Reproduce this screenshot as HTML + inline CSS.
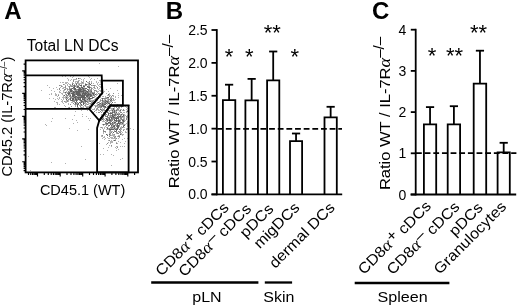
<!DOCTYPE html>
<html><head><meta charset="utf-8"><style>
html,body{margin:0;padding:0;background:#fff;width:520px;height:307px;overflow:hidden}
svg{display:block;filter:blur(0.3px);font-family:"Liberation Sans",sans-serif}
</style></head><body>
<svg width="520" height="307" viewBox="0 0 520 307">
<path d="M70 84h1v1h-1zM92 96h1v1h-1zM64 97h1v1h-1zM63 103h1v1h-1zM87 108h1v1h-1zM55 95h1v1h-1zM91 101h1v1h-1zM75 106h1v1h-1zM59 97h1v1h-1zM80 78h1v1h-1zM77 107h1v1h-1zM77 85h1v1h-1zM94 88h1v1h-1zM62 76h1v1h-1zM93 87h1v1h-1zM73 89h1v1h-1zM63 97h1v1h-1zM74 90h1v1h-1zM74 104h1v1h-1zM78 85h1v1h-1zM90 79h1v1h-1zM92 95h1v1h-1zM68 100h1v1h-1zM67 82h1v1h-1zM94 86h1v1h-1zM78 82h1v1h-1zM72 85h1v1h-1zM97 88h1v1h-1zM66 91h1v1h-1zM93 83h1v1h-1zM86 106h1v1h-1zM66 82h1v1h-1zM93 102h1v1h-1zM72 97h1v1h-1zM63 90h1v1h-1zM67 84h1v1h-1zM66 92h1v1h-1zM67 92h1v1h-1zM97 78h1v1h-1zM70 94h1v1h-1zM96 95h1v1h-1zM67 96h1v1h-1zM76 81h1v1h-1zM99 93h1v1h-1zM80 108h1v1h-1zM81 82h1v1h-1zM73 86h1v1h-1zM77 83h1v1h-1zM70 86h1v1h-1zM68 86h1v1h-1zM69 91h1v1h-1zM66 101h1v1h-1zM56 94h1v1h-1zM96 90h1v1h-1zM56 95h1v1h-1zM91 100h1v1h-1zM76 87h1v1h-1zM49 87h1v1h-1zM71 85h1v1h-1zM94 99h1v1h-1zM69 90h1v1h-1zM74 98h1v1h-1zM81 81h1v1h-1zM86 85h1v1h-1zM75 95h1v1h-1zM65 76h1v1h-1zM81 79h1v1h-1zM80 87h1v1h-1zM93 101h1v1h-1zM62 86h1v1h-1zM101 90h1v1h-1zM77 96h1v1h-1zM66 88h1v1h-1zM83 80h1v1h-1zM70 92h1v1h-1zM95 100h1v1h-1zM81 84h1v1h-1zM68 107h1v1h-1zM76 86h1v1h-1zM67 90h1v1h-1zM76 79h1v1h-1zM72 82h1v1h-1zM88 82h1v1h-1zM100 84h1v1h-1zM69 95h1v1h-1zM79 85h1v1h-1zM98 85h1v1h-1zM98 91h1v1h-1zM86 99h1v1h-1zM80 104h1v1h-1zM76 104h1v1h-1zM63 99h1v1h-1zM57 96h1v1h-1zM86 104h1v1h-1zM88 99h1v1h-1zM83 82h1v1h-1zM82 102h1v1h-1zM80 107h1v1h-1zM85 89h1v1h-1zM74 84h1v1h-1zM82 83h1v1h-1zM51 93h1v1h-1zM63 87h1v1h-1zM63 98h1v1h-1zM78 80h1v1h-1zM95 98h1v1h-1zM59 92h1v1h-1zM99 88h1v1h-1zM88 106h1v1h-1zM85 103h1v1h-1zM89 106h1v1h-1zM74 79h1v1h-1zM73 83h1v1h-1zM94 97h1v1h-1zM65 102h1v1h-1zM63 92h1v1h-1zM85 83h1v1h-1zM84 102h1v1h-1zM64 87h1v1h-1zM80 105h1v1h-1zM75 82h1v1h-1zM65 93h1v1h-1zM75 81h1v1h-1zM65 85h1v1h-1zM53 98h1v1h-1zM83 83h1v1h-1zM71 96h1v1h-1zM91 78h1v1h-1zM100 91h1v1h-1zM68 89h1v1h-1zM61 85h1v1h-1zM91 82h1v1h-1zM66 102h1v1h-1zM65 106h1v1h-1zM94 79h1v1h-1zM78 84h1v1h-1zM72 77h1v1h-1zM66 96h1v1h-1zM83 81h1v1h-1zM87 87h1v1h-1zM68 97h1v1h-1zM69 84h1v1h-1zM87 82h1v1h-1zM91 93h1v1h-1zM49 94h1v1h-1zM87 106h1v1h-1zM92 94h1v1h-1zM89 85h1v1h-1zM87 110h1v1h-1zM64 90h1v1h-1zM69 98h1v1h-1zM71 79h1v1h-1zM64 108h1v1h-1zM96 86h1v1h-1zM68 95h1v1h-1zM95 96h1v1h-1zM88 100h1v1h-1zM97 94h1v1h-1zM83 106h1v1h-1zM68 80h1v1h-1zM51 90h1v1h-1zM82 105h1v1h-1zM62 88h1v1h-1zM86 97h1v1h-1zM66 83h1v1h-1zM68 83h1v1h-1zM96 94h1v1h-1zM66 98h1v1h-1zM59 91h1v1h-1zM59 98h1v1h-1zM76 102h1v1h-1zM62 82h1v1h-1zM69 99h1v1h-1zM87 84h1v1h-1zM96 82h1v1h-1zM82 100h1v1h-1zM71 98h1v1h-1zM98 82h1v1h-1zM80 83h1v1h-1zM88 101h1v1h-1zM99 84h1v1h-1zM89 90h1v1h-1zM77 103h1v1h-1zM61 101h1v1h-1zM70 93h1v1h-1zM79 105h1v1h-1zM65 98h1v1h-1zM81 93h1v1h-1zM70 76h1v1h-1zM84 87h1v1h-1zM93 92h1v1h-1zM89 89h1v1h-1zM55 94h1v1h-1zM75 105h1v1h-1zM96 97h1v1h-1zM97 91h1v1h-1zM99 86h1v1h-1zM78 88h1v1h-1zM80 101h1v1h-1zM70 80h1v1h-1zM79 78h1v1h-1zM94 91h1v1h-1zM94 96h1v1h-1zM96 93h1v1h-1zM92 85h1v1h-1zM87 98h1v1h-1zM74 102h1v1h-1zM98 89h1v1h-1zM76 85h1v1h-1zM65 83h1v1h-1zM88 85h1v1h-1zM89 77h1v1h-1zM98 96h1v1h-1zM83 107h1v1h-1zM96 100h1v1h-1zM57 102h1v1h-1zM93 103h1v1h-1zM85 99h1v1h-1zM67 88h1v1h-1zM83 79h1v1h-1zM67 85h1v1h-1zM106 89h1v1h-1zM89 103h1v1h-1zM99 90h1v1h-1zM54 91h1v1h-1zM89 92h1v1h-1zM60 92h1v1h-1zM60 87h1v1h-1zM88 83h1v1h-1zM89 105h1v1h-1zM100 87h1v1h-1zM101 93h1v1h-1zM73 79h1v1h-1zM97 92h1v1h-1zM71 92h1v1h-1zM75 83h1v1h-1zM100 90h1v1h-1zM88 104h1v1h-1zM79 83h1v1h-1zM90 99h1v1h-1zM101 91h1v1h-1zM83 87h1v1h-1zM62 94h1v1h-1zM81 88h1v1h-1zM84 105h1v1h-1zM56 87h1v1h-1zM57 104h1v1h-1zM88 107h1v1h-1zM78 83h1v1h-1zM88 102h1v1h-1zM92 88h1v1h-1zM53 88h1v1h-1zM60 85h1v1h-1zM72 102h1v1h-1zM86 98h1v1h-1zM97 84h1v1h-1zM89 82h1v1h-1zM85 104h1v1h-1zM65 97h1v1h-1zM91 81h1v1h-1zM72 101h1v1h-1zM86 90h1v1h-1zM94 94h1v1h-1zM67 97h1v1h-1zM86 100h1v1h-1zM93 89h1v1h-1zM70 88h1v1h-1zM88 84h1v1h-1zM87 100h1v1h-1zM65 82h1v1h-1zM68 101h1v1h-1zM78 107h1v1h-1zM73 76h1v1h-1zM75 85h1v1h-1zM64 84h1v1h-1zM81 83h1v1h-1zM86 103h1v1h-1zM77 90h1v1h-1zM81 94h1v1h-1zM75 79h1v1h-1zM63 82h1v1h-1zM68 79h1v1h-1zM99 80h1v1h-1zM88 103h1v1h-1zM92 100h1v1h-1zM90 100h1v1h-1zM79 80h1v1h-1zM91 87h1v1h-1zM84 85h1v1h-1zM79 100h1v1h-1zM64 92h1v1h-1zM65 101h1v1h-1zM68 103h1v1h-1zM90 89h1v1h-1zM85 106h1v1h-1zM63 88h1v1h-1zM60 90h1v1h-1zM100 86h1v1h-1zM63 91h1v1h-1zM67 78h1v1h-1zM41 90h1v1h-1zM61 93h1v1h-1zM82 107h1v1h-1zM54 101h1v1h-1zM57 89h1v1h-1zM96 81h1v1h-1zM56 102h1v1h-1zM62 101h1v1h-1zM59 104h1v1h-1zM60 82h1v1h-1zM57 103h1v1h-1zM71 102h1v1h-1zM90 104h1v1h-1zM63 96h1v1h-1zM68 104h1v1h-1zM74 99h1v1h-1zM55 99h1v1h-1zM61 99h1v1h-1zM95 88h1v1h-1zM65 94h1v1h-1zM83 100h1v1h-1zM97 83h1v1h-1zM49 98h1v1h-1zM58 94h1v1h-1zM51 94h1v1h-1zM77 81h1v1h-1zM58 99h1v1h-1zM62 93h1v1h-1zM65 88h1v1h-1zM63 95h1v1h-1zM62 97h1v1h-1zM55 93h1v1h-1zM88 76h1v1h-1zM84 78h1v1h-1zM95 85h1v1h-1zM65 96h1v1h-1zM66 100h1v1h-1zM57 98h1v1h-1zM62 102h1v1h-1zM64 105h1v1h-1zM62 100h1v1h-1zM86 116h1v1h-1zM45 124h1v1h-1zM82 114h1v1h-1zM73 123h1v1h-1zM76 120h1v1h-1zM54 107h1v1h-1zM72 119h1v1h-1zM82 116h1v1h-1zM81 110h1v1h-1zM88 118h1v1h-1zM69 128h1v1h-1zM78 109h1v1h-1zM65 118h1v1h-1zM52 118h1v1h-1zM77 130h1v1h-1zM99 110h1v1h-1zM116 111h1v1h-1zM103 137h1v1h-1zM88 129h1v1h-1zM89 120h1v1h-1zM51 121h1v1h-1zM75 111h1v1h-1zM74 115h1v1h-1zM77 122h1v1h-1zM46 125h1v1h-1zM55 107h1v1h-1zM90 118h1v1h-1zM78 108h1v1h-1zM104 105h1v1h-1zM109 102h1v1h-1zM98 105h1v1h-1zM112 100h1v1h-1zM110 102h1v1h-1zM115 99h1v1h-1zM97 104h1v1h-1zM94 108h1v1h-1zM109 93h1v1h-1zM103 100h1v1h-1zM110 95h1v1h-1zM101 98h1v1h-1zM115 102h1v1h-1zM113 105h1v1h-1zM99 107h1v1h-1zM106 109h1v1h-1zM106 93h1v1h-1zM118 95h1v1h-1zM103 96h1v1h-1zM113 95h1v1h-1zM109 94h1v1h-1zM102 96h1v1h-1zM92 109h1v1h-1zM109 101h1v1h-1zM100 99h1v1h-1zM101 100h1v1h-1zM96 110h1v1h-1zM111 97h1v1h-1zM114 100h1v1h-1zM98 97h1v1h-1zM108 91h1v1h-1zM110 88h1v1h-1zM109 95h1v1h-1zM102 111h1v1h-1zM107 104h1v1h-1zM105 99h1v1h-1zM107 100h1v1h-1zM97 107h1v1h-1zM105 96h1v1h-1zM94 103h1v1h-1zM103 102h1v1h-1zM103 107h1v1h-1zM117 90h1v1h-1zM106 102h1v1h-1zM114 102h1v1h-1zM91 108h1v1h-1zM101 114h1v1h-1zM118 97h1v1h-1zM104 91h1v1h-1zM98 106h1v1h-1zM95 102h1v1h-1zM108 95h1v1h-1zM115 96h1v1h-1zM107 99h1v1h-1zM96 112h1v1h-1zM112 98h1v1h-1zM113 96h1v1h-1zM102 94h1v1h-1zM106 97h1v1h-1zM97 100h1v1h-1zM113 98h1v1h-1zM110 99h1v1h-1zM107 95h1v1h-1zM107 98h1v1h-1zM105 97h1v1h-1zM106 105h1v1h-1zM99 101h1v1h-1zM107 103h1v1h-1zM113 100h1v1h-1zM104 109h1v1h-1zM98 98h1v1h-1zM96 116h1v1h-1zM100 104h1v1h-1zM101 102h1v1h-1zM95 115h1v1h-1zM111 98h1v1h-1zM98 110h1v1h-1zM96 106h1v1h-1zM96 105h1v1h-1zM107 107h1v1h-1zM97 103h1v1h-1zM96 108h1v1h-1zM102 109h1v1h-1zM95 105h1v1h-1zM102 108h1v1h-1zM95 110h1v1h-1zM118 93h1v1h-1zM99 102h1v1h-1zM115 97h1v1h-1zM94 105h1v1h-1zM100 101h1v1h-1zM97 109h1v1h-1zM103 110h1v1h-1zM94 109h1v1h-1zM106 100h1v1h-1zM108 98h1v1h-1zM98 109h1v1h-1zM97 106h1v1h-1zM117 104h1v1h-1zM93 109h1v1h-1zM110 97h1v1h-1zM101 103h1v1h-1zM95 107h1v1h-1zM96 103h1v1h-1zM110 101h1v1h-1zM104 99h1v1h-1zM100 97h1v1h-1zM104 100h1v1h-1zM108 105h1v1h-1zM106 107h1v1h-1zM101 115h1v1h-1zM100 108h1v1h-1zM106 120h1v1h-1zM121 128h1v1h-1zM103 120h1v1h-1zM120 127h1v1h-1zM115 116h1v1h-1zM109 111h1v1h-1zM119 111h1v1h-1zM112 126h1v1h-1zM115 106h1v1h-1zM122 117h1v1h-1zM109 131h1v1h-1zM108 118h1v1h-1zM120 119h1v1h-1zM105 112h1v1h-1zM100 127h1v1h-1zM112 128h1v1h-1zM111 116h1v1h-1zM122 113h1v1h-1zM120 114h1v1h-1zM125 115h1v1h-1zM113 111h1v1h-1zM110 128h1v1h-1zM101 120h1v1h-1zM115 128h1v1h-1zM104 119h1v1h-1zM127 121h1v1h-1zM104 127h1v1h-1zM123 118h1v1h-1zM115 110h1v1h-1zM112 131h1v1h-1zM105 126h1v1h-1zM113 128h1v1h-1zM119 131h1v1h-1zM122 135h1v1h-1zM124 114h1v1h-1zM103 121h1v1h-1zM125 124h1v1h-1zM114 108h1v1h-1zM123 127h1v1h-1zM121 129h1v1h-1zM127 125h1v1h-1zM126 109h1v1h-1zM114 109h1v1h-1zM113 121h1v1h-1zM117 106h1v1h-1zM121 107h1v1h-1zM120 121h1v1h-1zM107 115h1v1h-1zM113 124h1v1h-1zM119 126h1v1h-1zM108 126h1v1h-1zM114 113h1v1h-1zM117 110h1v1h-1zM111 124h1v1h-1zM109 121h1v1h-1zM127 129h1v1h-1zM127 123h1v1h-1zM119 117h1v1h-1zM127 126h1v1h-1zM124 116h1v1h-1zM124 112h1v1h-1zM110 107h1v1h-1zM110 110h1v1h-1zM100 120h1v1h-1zM127 108h1v1h-1zM113 122h1v1h-1zM124 124h1v1h-1zM116 115h1v1h-1zM123 124h1v1h-1zM110 114h1v1h-1zM126 123h1v1h-1zM113 127h1v1h-1zM116 123h1v1h-1zM103 125h1v1h-1zM120 109h1v1h-1zM101 118h1v1h-1zM124 129h1v1h-1zM121 131h1v1h-1zM120 124h1v1h-1zM115 121h1v1h-1zM119 137h1v1h-1zM116 109h1v1h-1zM126 112h1v1h-1zM104 128h1v1h-1zM114 121h1v1h-1zM127 116h1v1h-1zM104 114h1v1h-1zM122 114h1v1h-1zM120 131h1v1h-1zM128 106h1v1h-1zM107 129h1v1h-1zM124 110h1v1h-1zM124 115h1v1h-1zM103 119h1v1h-1zM126 117h1v1h-1zM126 128h1v1h-1zM111 109h1v1h-1zM102 127h1v1h-1zM111 131h1v1h-1zM122 124h1v1h-1zM123 123h1v1h-1zM109 110h1v1h-1zM102 121h1v1h-1zM116 113h1v1h-1zM124 118h1v1h-1zM109 108h1v1h-1zM121 127h1v1h-1zM115 105h1v1h-1zM122 110h1v1h-1zM121 115h1v1h-1zM111 105h1v1h-1zM112 109h1v1h-1zM118 113h1v1h-1zM127 124h1v1h-1zM119 119h1v1h-1zM106 121h1v1h-1zM101 117h1v1h-1zM121 116h1v1h-1zM128 105h1v1h-1zM109 107h1v1h-1zM114 138h1v1h-1zM123 117h1v1h-1zM111 110h1v1h-1zM108 112h1v1h-1zM120 111h1v1h-1zM126 111h1v1h-1zM119 110h1v1h-1zM127 117h1v1h-1zM123 112h1v1h-1zM105 124h1v1h-1zM105 118h1v1h-1zM108 119h1v1h-1zM112 108h1v1h-1zM121 124h1v1h-1zM121 126h1v1h-1zM121 123h1v1h-1zM114 129h1v1h-1zM125 131h1v1h-1zM106 122h1v1h-1zM102 124h1v1h-1zM104 115h1v1h-1zM104 121h1v1h-1zM100 119h1v1h-1zM110 105h1v1h-1zM101 119h1v1h-1zM115 111h1v1h-1zM123 105h1v1h-1zM122 121h1v1h-1zM116 124h1v1h-1zM124 119h1v1h-1zM109 115h1v1h-1zM124 120h1v1h-1zM107 118h1v1h-1zM108 138h1v1h-1zM117 113h1v1h-1zM125 120h1v1h-1zM128 124h1v1h-1zM125 106h1v1h-1zM109 123h1v1h-1zM124 117h1v1h-1zM103 116h1v1h-1zM127 110h1v1h-1zM115 123h1v1h-1zM114 106h1v1h-1zM118 112h1v1h-1zM115 112h1v1h-1zM118 110h1v1h-1zM108 128h1v1h-1zM111 112h1v1h-1zM121 109h1v1h-1zM113 110h1v1h-1zM114 116h1v1h-1zM114 107h1v1h-1zM103 117h1v1h-1zM109 116h1v1h-1zM111 108h1v1h-1zM102 128h1v1h-1zM106 129h1v1h-1zM122 134h1v1h-1zM126 107h1v1h-1zM128 114h1v1h-1zM116 106h1v1h-1zM98 123h1v1h-1zM118 128h1v1h-1zM114 105h1v1h-1zM112 125h1v1h-1zM115 127h1v1h-1zM127 115h1v1h-1zM119 108h1v1h-1zM127 122h1v1h-1zM118 108h1v1h-1zM116 114h1v1h-1zM113 119h1v1h-1zM112 135h1v1h-1zM110 108h1v1h-1zM109 132h1v1h-1zM100 154h1v1h-1zM105 138h1v1h-1zM120 142h1v1h-1zM115 139h1v1h-1zM120 146h1v1h-1zM110 141h1v1h-1zM115 138h1v1h-1zM109 130h1v1h-1zM113 134h1v1h-1zM103 133h1v1h-1zM120 159h1v1h-1zM109 133h1v1h-1zM112 133h1v1h-1zM125 141h1v1h-1zM124 127h1v1h-1zM124 146h1v1h-1zM119 135h1v1h-1zM120 129h1v1h-1zM101 135h1v1h-1zM118 149h1v1h-1zM106 144h1v1h-1zM111 165h1v1h-1zM123 134h1v1h-1zM104 137h1v1h-1zM117 136h1v1h-1zM103 132h1v1h-1zM104 136h1v1h-1zM117 146h1v1h-1zM110 132h1v1h-1zM107 134h1v1h-1zM112 138h1v1h-1zM112 141h1v1h-1zM121 134h1v1h-1zM123 129h1v1h-1zM111 135h1v1h-1zM116 150h1v1h-1zM103 154h1v1h-1zM110 134h1v1h-1zM110 142h1v1h-1zM111 142h1v1h-1zM111 140h1v1h-1zM108 147h1v1h-1zM124 138h1v1h-1zM111 141h1v1h-1zM118 135h1v1h-1zM122 158h1v1h-1zM114 135h1v1h-1zM115 147h1v1h-1zM116 133h1v1h-1zM127 138h1v1h-1zM110 143h1v1h-1zM110 131h1v1h-1zM126 132h1v1h-1zM114 136h1v1h-1zM113 136h1v1h-1zM116 142h1v1h-1zM116 148h1v1h-1zM117 143h1v1h-1zM122 146h1v1h-1zM113 138h1v1h-1zM104 139h1v1h-1zM124 143h1v1h-1zM121 133h1v1h-1zM103 148h1v1h-1zM111 154h1v1h-1zM108 142h1v1h-1zM119 122h1v1h-1zM109 138h1v1h-1zM108 129h1v1h-1zM111 138h1v1h-1zM125 132h1v1h-1zM113 135h1v1h-1zM100 129h1v1h-1zM114 130h1v1h-1zM120 133h1v1h-1zM109 135h1v1h-1zM113 140h1v1h-1zM111 146h1v1h-1zM112 142h1v1h-1zM115 137h1v1h-1zM102 138h1v1h-1zM103 129h1v1h-1zM118 138h1v1h-1zM110 137h1v1h-1zM122 139h1v1h-1zM122 132h1v1h-1zM116 146h1v1h-1zM112 137h1v1h-1zM113 155h1v1h-1zM101 136h1v1h-1zM109 145h1v1h-1zM118 141h1v1h-1zM97 131h1v1h-1zM107 137h1v1h-1zM111 137h1v1h-1zM117 121h1v1h-1zM117 132h1v1h-1zM105 132h1v1h-1zM115 125h1v1h-1zM128 128h1v1h-1zM99 143h1v1h-1zM108 140h1v1h-1zM106 127h1v1h-1zM112 134h1v1h-1zM102 136h1v1h-1zM107 150h1v1h-1zM51 162h1v1h-1zM133 129h1v1h-1zM117 83h1v1h-1zM47 85h1v1h-1zM85 159h1v1h-1zM65 163h1v1h-1zM118 66h1v1h-1zM30 170h1v1h-1zM81 146h1v1h-1zM121 95h1v1h-1zM28 156h1v1h-1zM129 105h1v1h-1zM99 63h1v1h-1zM130 128h1v1h-1z" fill="#000" fill-opacity="0.3" shape-rendering="crispEdges"/><path d="M88 97h1v1h-1zM68 91h1v1h-1zM67 93h1v1h-1zM96 99h1v1h-1zM67 100h1v1h-1zM70 85h1v1h-1zM69 107h1v1h-1zM82 90h1v1h-1zM72 90h1v1h-1zM87 104h1v1h-1zM98 93h1v1h-1zM90 87h1v1h-1zM81 105h1v1h-1zM85 95h1v1h-1zM69 94h1v1h-1zM67 89h1v1h-1zM77 82h1v1h-1zM89 91h1v1h-1zM73 80h1v1h-1zM88 89h1v1h-1zM84 91h1v1h-1zM82 92h1v1h-1zM73 88h1v1h-1zM88 92h1v1h-1zM89 81h1v1h-1zM89 100h1v1h-1zM91 83h1v1h-1zM76 78h1v1h-1zM75 104h1v1h-1zM72 86h1v1h-1zM69 86h1v1h-1zM95 90h1v1h-1zM91 92h1v1h-1zM86 107h1v1h-1zM84 88h1v1h-1zM79 96h1v1h-1zM70 96h1v1h-1zM73 103h1v1h-1zM89 86h1v1h-1zM92 92h1v1h-1zM84 101h1v1h-1zM80 92h1v1h-1zM68 99h1v1h-1zM72 91h1v1h-1zM90 90h1v1h-1zM84 103h1v1h-1zM81 90h1v1h-1zM74 93h1v1h-1zM87 101h1v1h-1zM97 87h1v1h-1zM76 83h1v1h-1zM74 101h1v1h-1zM81 108h1v1h-1zM94 93h1v1h-1zM76 97h1v1h-1zM75 86h1v1h-1zM90 103h1v1h-1zM75 94h1v1h-1zM67 98h1v1h-1zM96 91h1v1h-1zM94 87h1v1h-1zM82 89h1v1h-1zM92 98h1v1h-1zM76 103h1v1h-1zM64 101h1v1h-1zM76 98h1v1h-1zM64 89h1v1h-1zM59 85h1v1h-1zM72 83h1v1h-1zM91 103h1v1h-1zM91 94h1v1h-1zM85 98h1v1h-1zM80 96h1v1h-1zM83 98h1v1h-1zM65 89h1v1h-1zM75 100h1v1h-1zM80 106h1v1h-1zM68 92h1v1h-1zM58 95h1v1h-1zM65 86h1v1h-1zM91 104h1v1h-1zM67 95h1v1h-1zM88 86h1v1h-1zM85 102h1v1h-1zM77 99h1v1h-1zM71 106h1v1h-1zM93 100h1v1h-1zM91 90h1v1h-1zM91 102h1v1h-1zM78 81h1v1h-1zM90 91h1v1h-1zM87 93h1v1h-1zM99 94h1v1h-1zM65 87h1v1h-1zM77 89h1v1h-1zM74 91h1v1h-1zM94 92h1v1h-1zM71 86h1v1h-1zM73 97h1v1h-1zM75 92h1v1h-1zM84 89h1v1h-1zM59 88h1v1h-1zM91 88h1v1h-1zM94 90h1v1h-1zM78 104h1v1h-1zM66 95h1v1h-1zM69 89h1v1h-1zM73 100h1v1h-1zM76 90h1v1h-1zM69 87h1v1h-1zM93 95h1v1h-1zM74 96h1v1h-1zM86 92h1v1h-1zM90 92h1v1h-1zM68 108h1v1h-1zM73 81h1v1h-1zM95 99h1v1h-1zM89 101h1v1h-1zM67 101h1v1h-1zM77 102h1v1h-1zM69 88h1v1h-1zM70 104h1v1h-1zM83 85h1v1h-1zM77 98h1v1h-1zM94 85h1v1h-1zM88 96h1v1h-1zM94 95h1v1h-1zM78 87h1v1h-1zM89 95h1v1h-1zM76 89h1v1h-1zM83 101h1v1h-1zM80 93h1v1h-1zM89 84h1v1h-1zM86 94h1v1h-1zM88 91h1v1h-1zM87 107h1v1h-1zM69 96h1v1h-1zM63 84h1v1h-1zM85 91h1v1h-1zM91 85h1v1h-1zM93 85h1v1h-1zM92 101h1v1h-1zM73 101h1v1h-1zM71 88h1v1h-1zM79 84h1v1h-1zM78 96h1v1h-1zM77 100h1v1h-1zM90 93h1v1h-1zM75 90h1v1h-1zM71 97h1v1h-1zM91 96h1v1h-1zM74 100h1v1h-1zM72 92h1v1h-1zM75 93h1v1h-1zM84 92h1v1h-1zM82 82h1v1h-1zM81 107h1v1h-1zM81 86h1v1h-1zM87 97h1v1h-1zM89 96h1v1h-1zM59 89h1v1h-1zM85 105h1v1h-1zM80 102h1v1h-1zM89 93h1v1h-1zM79 98h1v1h-1zM85 85h1v1h-1zM92 102h1v1h-1zM61 86h1v1h-1zM87 102h1v1h-1zM66 94h1v1h-1zM73 85h1v1h-1zM70 97h1v1h-1zM89 88h1v1h-1zM81 92h1v1h-1zM83 94h1v1h-1zM70 100h1v1h-1zM91 89h1v1h-1zM99 104h1v1h-1zM100 107h1v1h-1zM111 104h1v1h-1zM98 112h1v1h-1zM97 108h1v1h-1zM98 107h1v1h-1zM101 104h1v1h-1zM104 98h1v1h-1zM104 103h1v1h-1zM105 110h1v1h-1zM99 106h1v1h-1zM102 102h1v1h-1zM101 109h1v1h-1zM112 95h1v1h-1zM96 109h1v1h-1zM99 103h1v1h-1zM108 101h1v1h-1zM104 102h1v1h-1zM104 107h1v1h-1zM102 99h1v1h-1zM99 105h1v1h-1zM95 106h1v1h-1zM100 111h1v1h-1zM111 96h1v1h-1zM105 98h1v1h-1zM97 102h1v1h-1zM103 103h1v1h-1zM100 100h1v1h-1zM103 104h1v1h-1zM111 100h1v1h-1zM108 99h1v1h-1zM108 102h1v1h-1zM100 105h1v1h-1zM103 109h1v1h-1zM101 112h1v1h-1zM113 99h1v1h-1zM107 106h1v1h-1zM111 103h1v1h-1zM101 110h1v1h-1zM113 93h1v1h-1zM103 112h1v1h-1zM106 98h1v1h-1zM99 112h1v1h-1zM101 107h1v1h-1zM108 100h1v1h-1zM104 110h1v1h-1zM110 98h1v1h-1zM109 104h1v1h-1zM101 105h1v1h-1zM105 101h1v1h-1zM102 106h1v1h-1zM109 96h1v1h-1zM93 112h1v1h-1zM102 110h1v1h-1zM94 111h1v1h-1zM111 101h1v1h-1zM97 105h1v1h-1zM100 106h1v1h-1zM104 101h1v1h-1zM102 101h1v1h-1zM103 98h1v1h-1zM103 101h1v1h-1zM104 108h1v1h-1zM105 103h1v1h-1zM109 99h1v1h-1zM105 123h1v1h-1zM104 124h1v1h-1zM109 136h1v1h-1zM126 119h1v1h-1zM116 131h1v1h-1zM115 113h1v1h-1zM102 118h1v1h-1zM110 112h1v1h-1zM116 107h1v1h-1zM110 117h1v1h-1zM123 125h1v1h-1zM105 115h1v1h-1zM110 121h1v1h-1zM119 114h1v1h-1zM119 107h1v1h-1zM105 122h1v1h-1zM110 135h1v1h-1zM120 123h1v1h-1zM123 122h1v1h-1zM118 115h1v1h-1zM118 131h1v1h-1zM114 127h1v1h-1zM108 120h1v1h-1zM112 120h1v1h-1zM106 124h1v1h-1zM109 113h1v1h-1zM121 117h1v1h-1zM113 123h1v1h-1zM108 117h1v1h-1zM110 119h1v1h-1zM113 115h1v1h-1zM109 128h1v1h-1zM114 114h1v1h-1zM113 106h1v1h-1zM111 121h1v1h-1zM113 118h1v1h-1zM114 123h1v1h-1zM108 110h1v1h-1zM114 137h1v1h-1zM120 130h1v1h-1zM107 111h1v1h-1zM121 106h1v1h-1zM113 114h1v1h-1zM115 117h1v1h-1zM117 109h1v1h-1zM123 116h1v1h-1zM120 128h1v1h-1zM122 119h1v1h-1zM112 118h1v1h-1zM112 113h1v1h-1zM110 115h1v1h-1zM103 130h1v1h-1zM105 120h1v1h-1zM117 120h1v1h-1zM117 108h1v1h-1zM115 115h1v1h-1zM116 128h1v1h-1zM108 115h1v1h-1zM123 114h1v1h-1zM123 119h1v1h-1zM127 128h1v1h-1zM116 126h1v1h-1zM111 128h1v1h-1zM121 119h1v1h-1zM111 123h1v1h-1zM118 109h1v1h-1zM114 118h1v1h-1zM106 125h1v1h-1zM111 119h1v1h-1zM116 132h1v1h-1zM102 116h1v1h-1zM123 109h1v1h-1zM119 125h1v1h-1zM120 115h1v1h-1zM112 123h1v1h-1zM113 125h1v1h-1zM122 106h1v1h-1zM116 125h1v1h-1zM115 124h1v1h-1zM126 118h1v1h-1zM115 140h1v1h-1zM118 107h1v1h-1zM112 119h1v1h-1zM114 131h1v1h-1zM119 124h1v1h-1zM105 114h1v1h-1zM113 112h1v1h-1zM110 122h1v1h-1zM108 123h1v1h-1zM111 127h1v1h-1zM118 114h1v1h-1zM123 110h1v1h-1zM104 131h1v1h-1zM102 135h1v1h-1zM118 119h1v1h-1zM110 130h1v1h-1zM112 111h1v1h-1zM117 117h1v1h-1zM120 132h1v1h-1zM111 115h1v1h-1zM126 116h1v1h-1zM120 112h1v1h-1zM107 121h1v1h-1zM110 116h1v1h-1zM109 117h1v1h-1zM105 116h1v1h-1zM101 127h1v1h-1zM106 116h1v1h-1zM120 117h1v1h-1zM115 136h1v1h-1zM122 122h1v1h-1zM120 120h1v1h-1zM121 118h1v1h-1zM106 114h1v1h-1zM118 136h1v1h-1zM118 133h1v1h-1zM111 120h1v1h-1zM103 131h1v1h-1zM126 129h1v1h-1zM108 125h1v1h-1zM103 118h1v1h-1zM120 118h1v1h-1zM124 121h1v1h-1zM118 116h1v1h-1zM107 110h1v1h-1zM121 112h1v1h-1zM107 117h1v1h-1zM122 127h1v1h-1zM107 124h1v1h-1zM119 113h1v1h-1zM107 127h1v1h-1zM123 130h1v1h-1zM112 117h1v1h-1zM114 134h1v1h-1zM119 132h1v1h-1zM119 136h1v1h-1zM117 133h1v1h-1zM110 127h1v1h-1zM105 131h1v1h-1zM116 143h1v1h-1zM116 138h1v1h-1zM110 133h1v1h-1zM109 140h1v1h-1zM111 132h1v1h-1zM111 126h1v1h-1zM117 147h1v1h-1zM111 145h1v1h-1zM107 143h1v1h-1z" fill="#000" fill-opacity="0.46" shape-rendering="crispEdges"/><path d="M70 95h1v1h-1zM91 91h1v1h-1zM69 92h1v1h-1zM86 101h1v1h-1zM74 86h1v1h-1zM82 95h1v1h-1zM78 93h1v1h-1zM84 98h1v1h-1zM74 94h1v1h-1zM79 88h1v1h-1zM82 99h1v1h-1zM82 93h1v1h-1zM79 95h1v1h-1zM81 96h1v1h-1zM82 96h1v1h-1zM89 99h1v1h-1zM83 99h1v1h-1zM84 100h1v1h-1zM78 98h1v1h-1zM75 91h1v1h-1zM74 89h1v1h-1zM86 91h1v1h-1zM82 98h1v1h-1zM84 95h1v1h-1zM88 93h1v1h-1zM79 89h1v1h-1zM87 86h1v1h-1zM80 97h1v1h-1zM81 91h1v1h-1zM83 102h1v1h-1zM89 87h1v1h-1zM80 100h1v1h-1zM87 95h1v1h-1zM73 99h1v1h-1zM88 98h1v1h-1zM83 95h1v1h-1zM83 93h1v1h-1zM74 87h1v1h-1zM80 88h1v1h-1zM85 94h1v1h-1zM86 81h1v1h-1zM70 89h1v1h-1zM72 99h1v1h-1zM78 92h1v1h-1zM70 99h1v1h-1zM83 104h1v1h-1zM68 93h1v1h-1zM90 94h1v1h-1zM75 102h1v1h-1zM85 100h1v1h-1zM88 90h1v1h-1zM81 97h1v1h-1zM74 95h1v1h-1zM74 88h1v1h-1zM92 93h1v1h-1zM84 94h1v1h-1zM83 92h1v1h-1zM87 94h1v1h-1zM79 94h1v1h-1zM85 90h1v1h-1zM76 94h1v1h-1zM80 89h1v1h-1zM80 99h1v1h-1zM78 86h1v1h-1zM85 92h1v1h-1zM78 90h1v1h-1zM83 86h1v1h-1zM83 90h1v1h-1zM85 97h1v1h-1zM85 93h1v1h-1zM78 103h1v1h-1zM88 87h1v1h-1zM78 99h1v1h-1zM93 93h1v1h-1zM76 91h1v1h-1zM71 91h1v1h-1zM71 90h1v1h-1zM80 91h1v1h-1zM77 94h1v1h-1zM66 97h1v1h-1zM79 97h1v1h-1zM88 95h1v1h-1zM78 91h1v1h-1zM85 101h1v1h-1zM73 95h1v1h-1zM87 92h1v1h-1zM86 88h1v1h-1zM70 98h1v1h-1zM88 94h1v1h-1zM86 93h1v1h-1zM83 96h1v1h-1zM77 92h1v1h-1zM82 88h1v1h-1zM76 96h1v1h-1zM75 88h1v1h-1zM72 88h1v1h-1zM85 88h1v1h-1zM82 87h1v1h-1zM76 99h1v1h-1zM90 95h1v1h-1zM71 89h1v1h-1zM84 93h1v1h-1zM81 100h1v1h-1zM78 95h1v1h-1zM95 94h1v1h-1zM83 91h1v1h-1zM81 95h1v1h-1zM82 101h1v1h-1zM93 97h1v1h-1zM81 102h1v1h-1zM82 97h1v1h-1zM75 89h1v1h-1zM80 103h1v1h-1zM84 99h1v1h-1zM86 95h1v1h-1zM76 100h1v1h-1zM73 96h1v1h-1zM77 104h1v1h-1zM87 96h1v1h-1zM79 91h1v1h-1zM87 99h1v1h-1zM79 99h1v1h-1zM87 91h1v1h-1zM75 98h1v1h-1zM76 92h1v1h-1zM92 97h1v1h-1zM82 91h1v1h-1zM66 99h1v1h-1zM72 84h1v1h-1zM86 96h1v1h-1zM73 98h1v1h-1zM74 92h1v1h-1zM82 94h1v1h-1zM72 94h1v1h-1zM86 84h1v1h-1zM77 91h1v1h-1zM89 94h1v1h-1zM89 83h1v1h-1zM90 98h1v1h-1zM70 91h1v1h-1zM89 97h1v1h-1zM72 100h1v1h-1zM89 98h1v1h-1zM91 95h1v1h-1zM78 89h1v1h-1zM75 97h1v1h-1zM80 94h1v1h-1zM65 92h1v1h-1zM75 99h1v1h-1zM93 94h1v1h-1zM70 90h1v1h-1zM79 90h1v1h-1zM80 95h1v1h-1zM80 85h1v1h-1zM72 93h1v1h-1zM81 85h1v1h-1zM74 97h1v1h-1zM79 92h1v1h-1zM80 90h1v1h-1zM78 94h1v1h-1zM79 102h1v1h-1zM80 98h1v1h-1zM76 93h1v1h-1zM84 86h1v1h-1zM77 86h1v1h-1zM79 93h1v1h-1zM84 97h1v1h-1zM72 96h1v1h-1zM76 101h1v1h-1zM84 90h1v1h-1zM75 96h1v1h-1zM81 89h1v1h-1zM90 96h1v1h-1zM87 89h1v1h-1zM83 89h1v1h-1zM78 97h1v1h-1zM77 97h1v1h-1zM81 104h1v1h-1zM79 87h1v1h-1zM73 87h1v1h-1zM76 84h1v1h-1zM83 103h1v1h-1zM77 95h1v1h-1zM69 93h1v1h-1zM73 94h1v1h-1zM73 93h1v1h-1zM73 91h1v1h-1zM71 100h1v1h-1zM84 96h1v1h-1zM77 93h1v1h-1zM74 85h1v1h-1zM75 103h1v1h-1zM90 101h1v1h-1zM90 84h1v1h-1zM77 87h1v1h-1zM81 87h1v1h-1zM77 106h1v1h-1zM83 88h1v1h-1zM91 98h1v1h-1zM64 95h1v1h-1zM72 95h1v1h-1zM73 92h1v1h-1zM81 101h1v1h-1zM83 97h1v1h-1zM78 78h1v1h-1zM68 94h1v1h-1zM71 93h1v1h-1zM77 105h1v1h-1zM85 84h1v1h-1zM72 98h1v1h-1zM105 106h1v1h-1zM100 109h1v1h-1zM108 103h1v1h-1zM103 106h1v1h-1zM102 104h1v1h-1zM102 98h1v1h-1zM98 104h1v1h-1zM108 94h1v1h-1zM112 102h1v1h-1zM98 102h1v1h-1zM105 102h1v1h-1zM107 101h1v1h-1zM103 105h1v1h-1zM106 101h1v1h-1zM104 106h1v1h-1zM106 103h1v1h-1zM102 100h1v1h-1zM102 103h1v1h-1zM105 107h1v1h-1zM104 104h1v1h-1zM100 103h1v1h-1zM102 105h1v1h-1zM108 97h1v1h-1zM107 97h1v1h-1zM110 100h1v1h-1zM101 106h1v1h-1zM110 104h1v1h-1zM105 104h1v1h-1zM109 103h1v1h-1zM105 100h1v1h-1zM107 102h1v1h-1zM108 106h1v1h-1zM111 99h1v1h-1zM115 118h1v1h-1zM114 126h1v1h-1zM115 129h1v1h-1zM111 117h1v1h-1zM109 119h1v1h-1zM118 122h1v1h-1zM116 120h1v1h-1zM113 117h1v1h-1zM108 113h1v1h-1zM116 121h1v1h-1zM118 127h1v1h-1zM108 114h1v1h-1zM111 129h1v1h-1zM106 123h1v1h-1zM107 123h1v1h-1zM114 120h1v1h-1zM116 117h1v1h-1zM118 126h1v1h-1zM102 119h1v1h-1zM112 129h1v1h-1zM118 123h1v1h-1zM113 109h1v1h-1zM114 122h1v1h-1zM123 120h1v1h-1zM114 111h1v1h-1zM111 113h1v1h-1zM117 114h1v1h-1zM119 129h1v1h-1zM118 125h1v1h-1zM110 123h1v1h-1zM112 122h1v1h-1zM116 112h1v1h-1zM121 122h1v1h-1zM112 115h1v1h-1zM112 114h1v1h-1zM122 116h1v1h-1zM114 125h1v1h-1zM109 129h1v1h-1zM113 116h1v1h-1zM119 120h1v1h-1zM115 114h1v1h-1zM124 125h1v1h-1zM118 120h1v1h-1zM116 110h1v1h-1zM113 108h1v1h-1zM114 117h1v1h-1zM109 118h1v1h-1zM114 119h1v1h-1zM116 119h1v1h-1zM123 115h1v1h-1zM117 127h1v1h-1zM122 120h1v1h-1zM106 119h1v1h-1zM110 120h1v1h-1zM108 122h1v1h-1zM114 112h1v1h-1zM120 122h1v1h-1zM114 115h1v1h-1zM120 110h1v1h-1zM115 122h1v1h-1zM117 124h1v1h-1zM116 118h1v1h-1zM120 116h1v1h-1zM107 112h1v1h-1zM113 126h1v1h-1zM109 120h1v1h-1zM113 129h1v1h-1zM117 118h1v1h-1zM111 118h1v1h-1zM112 112h1v1h-1zM109 122h1v1h-1zM117 126h1v1h-1zM106 118h1v1h-1zM117 128h1v1h-1zM110 129h1v1h-1zM116 129h1v1h-1zM115 120h1v1h-1zM118 117h1v1h-1zM119 121h1v1h-1zM127 111h1v1h-1zM107 128h1v1h-1zM123 126h1v1h-1zM117 129h1v1h-1zM103 124h1v1h-1zM119 116h1v1h-1zM109 134h1v1h-1zM118 121h1v1h-1zM114 128h1v1h-1zM122 123h1v1h-1zM116 130h1v1h-1zM117 116h1v1h-1zM112 116h1v1h-1zM117 125h1v1h-1zM111 125h1v1h-1zM107 116h1v1h-1zM112 110h1v1h-1zM106 134h1v1h-1zM110 113h1v1h-1zM123 121h1v1h-1zM119 123h1v1h-1zM112 124h1v1h-1zM121 114h1v1h-1zM110 124h1v1h-1zM115 131h1v1h-1zM107 120h1v1h-1zM114 110h1v1h-1zM107 119h1v1h-1zM117 123h1v1h-1zM118 118h1v1h-1zM107 135h1v1h-1zM109 125h1v1h-1zM112 127h1v1h-1zM113 132h1v1h-1zM114 140h1v1h-1zM120 134h1v1h-1z" fill="#000" fill-opacity="0.62" shape-rendering="crispEdges"/>
<path d="M23.6 170.6H25.6M23.6 168.4H25.6M23.6 166.6H25.6M23.6 165.1H25.6M23.6 163.8H25.6M23.6 162.6H25.6M22.2 161.7H25.6M23.6 154.9H25.6M23.6 150.9H25.6M23.6 148.0H25.6M23.6 145.8H25.6M23.6 144.0H25.6M23.6 142.5H25.6M23.6 141.2H25.6M23.6 140.0H25.6M22.2 138.8H25.6M23.6 132.0H25.6M23.6 128.0H25.6M23.6 125.1H25.6M23.6 122.9H25.6M23.6 121.1H25.6M23.6 119.6H25.6M23.6 118.3H25.6M23.6 117.1H25.6M22.2 116.3H25.6M23.6 109.5H25.6M23.6 105.5H25.6M23.6 102.6H25.6M23.6 100.4H25.6M23.6 98.6H25.6M23.6 97.1H25.6M23.6 95.8H25.6M23.6 94.6H25.6M22.2 93.4H25.6M23.6 86.6H25.6M23.6 82.6H25.6M23.6 79.7H25.6M23.6 77.5H25.6M23.6 75.7H25.6M23.6 74.2H25.6M23.6 72.9H25.6M23.6 71.7H25.6M22.2 70.9H25.6M23.6 64.1H25.6M28.5 172.8V175M30.7 172.8V175M32.5 172.8V175M34.0 172.8V175M35.3 172.8V175M36.5 172.8V175M37.5 172.8V176.6M44.3 172.8V175M48.3 172.8V175M51.2 172.8V175M53.4 172.8V175M55.2 172.8V175M56.7 172.8V175M58.0 172.8V175M59.2 172.8V175M60.2 172.8V176.6M67.0 172.8V175M71.0 172.8V175M73.9 172.8V175M76.1 172.8V175M77.9 172.8V175M79.4 172.8V175M80.7 172.8V175M81.9 172.8V175M82.7 172.8V176.6M89.5 172.8V175M93.5 172.8V175M96.4 172.8V175M98.6 172.8V175M100.4 172.8V175M101.9 172.8V175M103.2 172.8V175M104.4 172.8V175M105.1 172.8V176.6M111.9 172.8V175M115.9 172.8V175M118.8 172.8V175M121.0 172.8V175M122.8 172.8V175M124.3 172.8V175M125.6 172.8V175M126.8 172.8V175M127.8 172.8V176.6M134.6 172.8V175" stroke="#000" stroke-width="1.15" fill="none"/>
<text x="4.3" y="18.6" font-size="24" font-weight="bold">A</text>
<text x="165.7" y="18.9" font-size="24" font-weight="bold">B</text>
<text x="372" y="18.9" font-size="24" font-weight="bold">C</text>
<g stroke="#000" fill="none">
<line x1="216.8" y1="29.1" x2="216.8" y2="195.3" stroke-width="1.8" />
<line x1="211.5" y1="194.4" x2="216.8" y2="194.4" stroke-width="1.8" />
<line x1="211.5" y1="161.52" x2="216.8" y2="161.52" stroke-width="1.8" />
<line x1="211.5" y1="128.64" x2="216.8" y2="128.64" stroke-width="1.8" />
<line x1="211.5" y1="95.76" x2="216.8" y2="95.76" stroke-width="1.8" />
<line x1="211.5" y1="62.88" x2="216.8" y2="62.88" stroke-width="1.8" />
<line x1="211.5" y1="30" x2="216.8" y2="30" stroke-width="1.8" />
<line x1="211.5" y1="194.4" x2="342.2" y2="194.4" stroke-width="1.8" />
<path d="M222.9 194.4V100.2H235.3V194.4" stroke-width="1.8"/>
<line x1="229.1" y1="100.2" x2="229.1" y2="84.7" stroke-width="1.8" />
<line x1="225" y1="84.7" x2="233.2" y2="84.7" stroke-width="1.8" />
<path d="M245.4 194.4V100.3H257.9V194.4" stroke-width="1.8"/>
<line x1="251.65" y1="100.3" x2="251.65" y2="78.9" stroke-width="1.8" />
<line x1="247.55" y1="78.9" x2="255.75" y2="78.9" stroke-width="1.8" />
<path d="M267.1 194.4V80.4H279.3V194.4" stroke-width="1.8"/>
<line x1="273.2" y1="80.4" x2="273.2" y2="51.5" stroke-width="1.8" />
<line x1="269.1" y1="51.5" x2="277.3" y2="51.5" stroke-width="1.8" />
<path d="M290 194.4V141.2H302.1V194.4" stroke-width="1.8"/>
<line x1="296.05" y1="141.2" x2="296.05" y2="133.5" stroke-width="1.8" />
<line x1="291.95" y1="133.5" x2="300.15" y2="133.5" stroke-width="1.8" />
<path d="M324.5 194.4V117.4H336.8V194.4" stroke-width="1.8"/>
<line x1="330.65" y1="117.4" x2="330.65" y2="106.8" stroke-width="1.8" />
<line x1="326.55" y1="106.8" x2="334.75" y2="106.8" stroke-width="1.8" />
<line x1="217.2" y1="128.9" x2="342" y2="128.9" stroke-width="1.9" stroke-dasharray="5.8 2.85"/>
<line x1="415.7" y1="28.8" x2="415.7" y2="195.4" stroke-width="1.8" />
<line x1="410.8" y1="194.5" x2="415.7" y2="194.5" stroke-width="1.8" />
<line x1="410.8" y1="153.3" x2="415.7" y2="153.3" stroke-width="1.8" />
<line x1="410.8" y1="112.1" x2="415.7" y2="112.1" stroke-width="1.8" />
<line x1="410.8" y1="70.9" x2="415.7" y2="70.9" stroke-width="1.8" />
<line x1="410.8" y1="29.7" x2="415.7" y2="29.7" stroke-width="1.8" />
<line x1="410.6" y1="194.5" x2="516.2" y2="194.5" stroke-width="1.8" />
<path d="M423.9 194.5V124.4H436.2V194.5" stroke-width="1.8"/>
<line x1="430.05" y1="124.4" x2="430.05" y2="107.1" stroke-width="1.8" />
<line x1="425.95" y1="107.1" x2="434.15" y2="107.1" stroke-width="1.8" />
<path d="M447.7 194.5V124.4H460.1V194.5" stroke-width="1.8"/>
<line x1="453.9" y1="124.4" x2="453.9" y2="106.2" stroke-width="1.8" />
<line x1="449.8" y1="106.2" x2="458" y2="106.2" stroke-width="1.8" />
<path d="M473.7 194.5V83.7H486.2V194.5" stroke-width="1.8"/>
<line x1="479.95" y1="83.7" x2="479.95" y2="50.7" stroke-width="1.8" />
<line x1="475.85" y1="50.7" x2="484.05" y2="50.7" stroke-width="1.8" />
<path d="M497.6 194.5V152.4H509.8V194.5" stroke-width="1.8"/>
<line x1="503.7" y1="152.4" x2="503.7" y2="142.8" stroke-width="1.8" />
<line x1="499.6" y1="142.8" x2="507.8" y2="142.8" stroke-width="1.8" />
<line x1="416" y1="153.1" x2="516.4" y2="153.1" stroke-width="1.9" stroke-dasharray="5.8 2.85"/>
<line x1="151.2" y1="282.5" x2="258.4" y2="282.5" stroke-width="2.3" />
<line x1="264.8" y1="282.5" x2="292.1" y2="282.5" stroke-width="2.3" />
<line x1="354.7" y1="283" x2="449.4" y2="283" stroke-width="2.3" />
<rect x="25.6" y="60.4" width="112.4" height="112" stroke-width="1.8"/>
<path d="M25.6 75.3H101.7L102.4 92.8L89.1 108.8H25.6" stroke-width="1.8" stroke-linejoin="miter"/>
<path d="M101.5 80.6H122.9V105.5H110.5L99.3 120.5L89.1 108.8L102.4 92.8Z" stroke-width="1.8"/>
<path d="M110.5 105.5H128.6V172.4H97.1V128L99.3 120.5Z" stroke-width="1.8"/>
</g>
<g font-size="14" text-anchor="end">
<text x="207.6" y="199.4">0.0</text>
<text x="207.6" y="166.52">0.5</text>
<text x="207.6" y="133.64">1.0</text>
<text x="207.6" y="100.76">1.5</text>
<text x="207.6" y="67.88">2.0</text>
<text x="207.6" y="35">2.5</text>
<text x="406.4" y="199.5">0</text>
<text x="406.4" y="158.3">1</text>
<text x="406.4" y="117.1">2</text>
<text x="406.4" y="75.9">3</text>
<text x="406.4" y="34.7">4</text>
</g>
<g font-size="22" text-anchor="middle">
<text x="229" y="63.5">*</text>
<text x="249.3" y="63.5">*</text>
<text x="272.2" y="39.8">**</text>
<text x="294.7" y="63.5">*</text>
<text x="432.1" y="62.7">*</text>
<text x="454.5" y="62.7">**</text>
<text x="478.5" y="39.9">**</text>
</g>
<text transform="translate(178.5,188.2) rotate(-90) scale(1.08,1)" font-size="15.3">Ratio WT / IL-7R<tspan font-family="Liberation Serif" font-style="italic" font-size="17">&#945;</tspan><tspan dy="-5.3" font-size="14">&#8211;/&#8211;</tspan></text>
<text transform="translate(389.6,190.1) rotate(-90) scale(1.08,1)" font-size="15.3">Ratio WT / IL-7R<tspan font-family="Liberation Serif" font-style="italic" font-size="17">&#945;</tspan><tspan dy="-5.3" font-size="14">&#8211;/&#8211;</tspan></text>
<g font-size="15" text-anchor="end">
<text transform="translate(229.7,208.5) rotate(-45) scale(1.08,1)">CD8<tspan font-family="Liberation Serif" font-style="italic" font-size="16.5">&#945;</tspan><tspan dx="1" dy="-3.4" font-size="15">+</tspan><tspan dy="3.4"> cDCs</tspan></text>
<text transform="translate(252.1,209.8) rotate(-45) scale(1.08,1)">CD8<tspan font-family="Liberation Serif" font-style="italic" font-size="16.5">&#945;</tspan><tspan dx="0.8" dy="-4.5" font-size="15">&#8211;</tspan><tspan dy="4.5"> cDCs</tspan></text>
<text transform="translate(274.4,209.8) rotate(-45) scale(1.08,1)">pDCs</text>
<text transform="translate(300.4,208.5) rotate(-45) scale(1.08,1)">migDCs</text>
<text transform="translate(335.7,208.5) rotate(-45) scale(1.08,1)">dermal DCs</text>
<text transform="translate(432.1,207.1) rotate(-45) scale(1.08,1)">CD8<tspan font-family="Liberation Serif" font-style="italic" font-size="16.5">&#945;</tspan><tspan dx="1" dy="-3.4" font-size="15">+</tspan><tspan dy="3.4"> cDCs</tspan></text>
<text transform="translate(460.4,207.8) rotate(-45) scale(1.08,1)">CD8<tspan font-family="Liberation Serif" font-style="italic" font-size="16.5">&#945;</tspan><tspan dx="0.8" dy="-4.5" font-size="15">&#8211;</tspan><tspan dy="4.5"> cDCs</tspan></text>
<text transform="translate(483.7,208.4) rotate(-45) scale(1.08,1)">pDCs</text>
<text transform="translate(507.3,207.4) rotate(-45) scale(1.08,1)">Granulocytes</text>
</g>
<text transform="translate(192.3,301.5) scale(1.067,1)" font-size="15">pLN</text>
<text transform="translate(263.3,301.5) scale(1.067,1)" font-size="15">Skin</text>
<text transform="translate(377.5,301.7) scale(1.075,1)" font-size="15">Spleen</text>
<text x="26.8" y="50.9" font-size="15.6">Total LN DCs</text>
<text x="39.9" y="194.5" font-size="14.5">CD45.1 (WT)</text>
<text transform="translate(12.0,176.6) rotate(-90) scale(1.012,1)" font-size="14.5">CD45.2 (IL-7R<tspan font-family="Liberation Serif" font-style="italic" font-size="16">&#945;</tspan><tspan dy="-5" font-size="8.5">&#8211;/&#8211;</tspan><tspan dy="5">)</tspan></text>
</svg>
</body></html>
